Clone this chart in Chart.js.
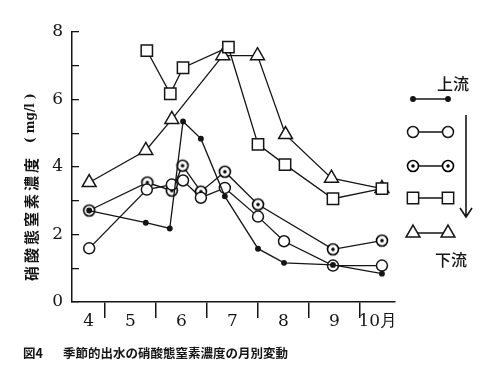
<!DOCTYPE html>
<html>
<head>
<meta charset="utf-8">
<script src="https://cdn.jsdelivr.net/npm/chart.js"></script>
<style>
  body { margin: 0; background: #fff; }
  canvas { display: block; }
</style>
</head>
<body>
<canvas id="chart" width="496" height="384"></canvas>
<script>
// month axis: labels sit in the middle of each month, separators at the month edges
const monthLabels = ['4', '5', '6', '7', '8', '9', '10月'];
const monthLabelPos = [4.68, 5.5, 6.5, 7.5, 8.5, 9.5, 10.35];
const monthEdges = [5, 6, 7, 8, 9, 10];

// sampling stations, upstream (dot) to downstream (triangle)
const dotX = [4.69, 5.80, 6.27, 6.53, 6.88, 7.35, 8.00, 8.51, 9.47, 10.43];
const dotY = [2.71, 2.35, 2.18, 5.35, 4.84, 3.13, 1.58, 1.16, 1.10, 0.84];

const openX = [4.69, 5.82, 6.31, 6.53, 6.88, 7.35, 8.00, 8.51, 9.47, 10.43];
const openY = [1.59, 3.33, 3.48, 3.60, 3.09, 3.38, 2.53, 1.80, 1.08, 1.08];

const dottedX = [4.69, 5.83, 6.31, 6.52, 6.88, 7.35, 8.00, 9.47, 10.43];
const dottedY = [2.71, 3.54, 3.30, 4.04, 3.27, 3.86, 2.89, 1.56, 1.82];

const squareX = [5.82, 6.28, 6.53, 7.42, 8.00, 8.53, 9.47, 10.43];
const squareY = [7.45, 6.17, 6.94, 7.55, 4.67, 4.07, 3.06, 3.36];

const triX = [4.69, 5.80, 6.31, 7.31, 7.99, 8.54, 9.44, 10.43];
const triY = [3.54, 4.49, 5.41, 7.30, 7.30, 4.96, 3.67, 3.36];

const ink = '#151515';
const numFont = { family: "'DejaVu Serif', serif", size: 17 };

// circle with a dot in the middle
function makeDottedCircle(r) {
    const c = document.createElement('canvas');
    const s = 2 * Math.ceil(r + 2);
    c.width = s;
    c.height = s;
    const g = c.getContext('2d');
    g.beginPath();
    g.arc(s / 2, s / 2, r, 0, Math.PI * 2);
    g.fillStyle = '#fff';
    g.fill();
    g.lineWidth = 1.6;
    g.strokeStyle = '#000';
    g.stroke();
    g.beginPath();
    g.arc(s / 2, s / 2, 1.8, 0, Math.PI * 2);
    g.fillStyle = '#000';
    g.fill();
    return c;
}

const dottedCircle = makeDottedCircle(5.5);

function toPoints(xs, ys) {
    return xs.map((x, i) => ({ x: x, y: ys[i] }));
}

function series(xs, ys, style, radius, fill) {
    return {
        data: toPoints(xs, ys),
        borderColor: ink,
        borderWidth: 1.3,
        pointStyle: style,
        pointRadius: radius,
        pointHoverRadius: radius,
        pointBackgroundColor: fill,
        pointBorderColor: ink,
        pointBorderWidth: 1.5,
        tension: 0,
        fill: false
    };
}

const datasets = [
    series(dotX, dotY, 'circle', 2.2, ink),
    series(openX, openY, 'circle', 5.5, '#fff'),
    series(dottedX, dottedY, dottedCircle, 5.5, '#fff'),
    series(squareX, squareY, 'rect', 8, '#fff'),
    series(triX, triY, 'triangle', 8, '#fff')
];

// legend, y title and caption
const extras = {
    id: 'extras',
    afterDraw(chart) {
        const ctx = chart.ctx;
        ctx.save();
        ctx.fillStyle = ink;
        ctx.strokeStyle = ink;

        // legend
        const legendY = [99, 132, 166, 198, 233];
        datasets.forEach((ds, i) => {
            const y = legendY[i];
            ctx.beginPath();
            ctx.lineWidth = 1.3;
            ctx.moveTo(413, y);
            ctx.lineTo(448, y);
            ctx.stroke();
            [413, 448].forEach(x => {
                ctx.fillStyle = ds.pointBackgroundColor;
                ctx.strokeStyle = ink;
                ctx.lineWidth = 1.5;
                Chart.helpers.drawPoint(ctx, {
                    pointStyle: ds.pointStyle,
                    radius: ds.pointRadius,
                    borderWidth: 1.5,
                    rotation: 0
                }, x, y);
            });
        });

        ctx.fillStyle = ink;
        ctx.strokeStyle = ink;
        ctx.font = "500 16px 'Noto Sans CJK JP'";
        ctx.textAlign = 'left';
        ctx.textBaseline = 'middle';
        ctx.fillText('上流', 437, 84);
        ctx.fillText('下流', 435, 260);

        // arrow upstream -> downstream
        ctx.lineWidth = 1.6;
        ctx.beginPath();
        ctx.moveTo(466, 115);
        ctx.lineTo(466, 216);
        ctx.moveTo(460, 208);
        ctx.lineTo(466, 217);
        ctx.lineTo(472, 208);
        ctx.stroke();

        // y axis title, reads bottom to top
        ctx.save();
        ctx.translate(31, 281);
        ctx.rotate(-Math.PI / 2);
        ctx.font = "bold 15px 'Noto Sans CJK JP'";
        ctx.letterSpacing = '3px';
        ctx.fillText('硝酸態窒素濃度', 0, 0);
        const w = ctx.measureText('硝酸態窒素濃度').width;
        ctx.letterSpacing = '0px';
        ctx.font = "bold 12px 'DejaVu Serif'";
        ctx.fillText('( mg/l )', w + 12, 0);
        ctx.restore();

        // caption
        ctx.font = "bold 12.5px 'Noto Sans CJK JP'";
        ctx.fillText('図4', 23, 353);
        ctx.fillText('季節的出水の硝酸態窒素濃度の月別変動', 63, 353);
        ctx.restore();
    }
};

new Chart(document.getElementById('chart'), {
    type: 'line',
    data: { datasets: datasets },
    options: {
        responsive: false,
        animation: false,
        layout: { padding: { left: 40, right: 101, top: 32, bottom: 50 } },
        plugins: {
            legend: { display: false },
            tooltip: { enabled: false }
        },
        scales: {
            x: {
                type: 'linear',
                min: 4.353,
                max: 10.686,
                afterBuildTicks: scale => {
                    const vals = monthLabelPos.concat(monthEdges).sort((a, b) => a - b);
                    scale.ticks = vals.map(v => ({ value: v }));
                },
                afterFit: scale => { scale.height = 32; },
                ticks: {
                    autoSkip: false,
                    maxRotation: 0,
                    padding: -7,
                    color: ink,
                    font: numFont,
                    callback: v => {
                        const i = monthLabelPos.findIndex(p => Math.abs(p - v) < 1e-6);
                        return i >= 0 ? monthLabels[i] : '';
                    }
                },
                grid: {
                    drawOnChartArea: false,
                    drawTicks: true,
                    tickLength: 16,
                    lineWidth: 1.5,
                    color: c => (c.tick && monthEdges.includes(c.tick.value)) ? ink : 'rgba(0,0,0,0)'
                },
                border: { display: true, color: ink, width: 1.5 }
            },
            y: {
                min: 0,
                max: 8,
                afterFit: scale => { scale.width = 32; },
                ticks: {
                    stepSize: 1,
                    padding: 16,
                    color: ink,
                    font: numFont,
                    callback: v => (v % 2 === 0 ? v : '')
                },
                grid: {
                    drawOnChartArea: false,
                    drawTicks: true,
                    tickLength: -7,
                    lineWidth: 1.3,
                    color: ink
                },
                border: { display: true, color: ink, width: 1.5 }
            }
        }
    },
    plugins: [extras]
});
</script>
</body>
</html>
